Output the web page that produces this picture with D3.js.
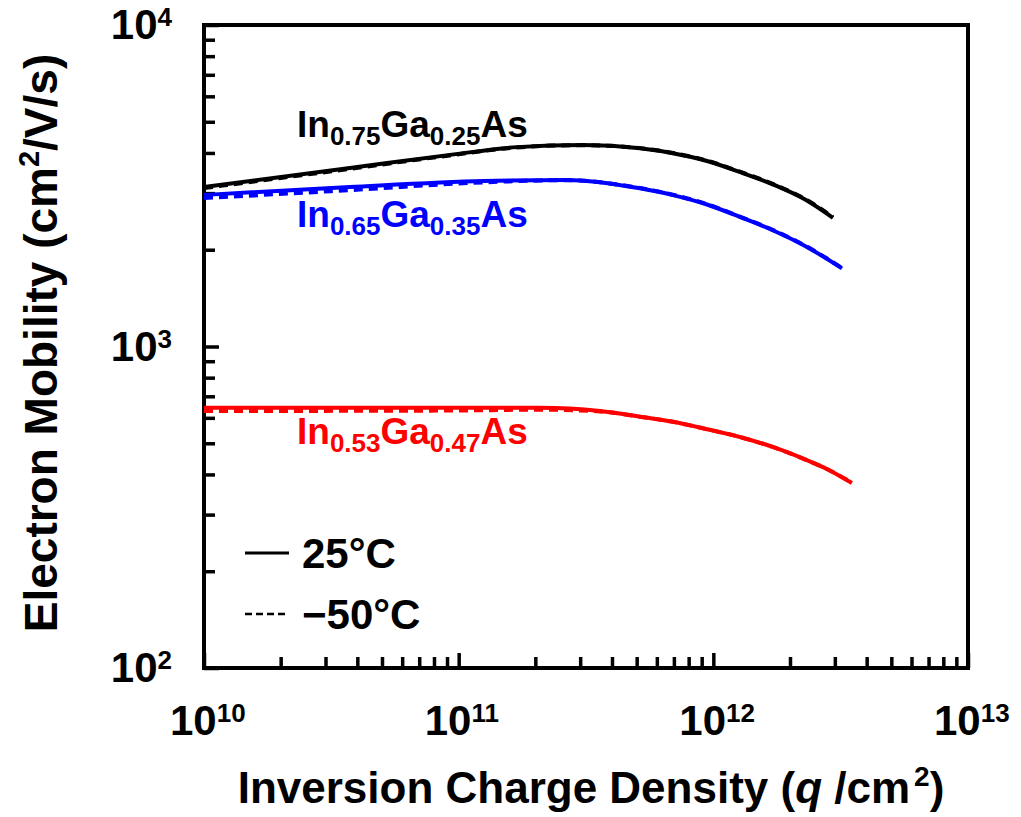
<!DOCTYPE html>
<html>
<head>
<meta charset="utf-8">
<script src="https://cdn.jsdelivr.net/npm/d3@7"></script>
<style>
  html, body { margin: 0; padding: 0; background: #fff; }
  svg { display: block; font-family: "Liberation Sans", Arial, sans-serif; font-weight: bold; }
</style>
</head>
<body>
<svg id="chart" width="1021" height="817"></svg>
<script>
// Inversion charge density (q/cm^2) and electron mobility (cm^2/V/s)
const nIn75 = [1e10, 3.74e10, 9.25e10, 1.69e11, 3.08e11, 5.15e11, 6.94e11, 9.44e11, 1.27e12, 1.71e12, 2.33e12, 2.95e12];
const muIn75_25C = [3135, 3590, 3945, 4170, 4235, 4135, 3990, 3775, 3490, 3195, 2845, 2513];
const muIn75_m50C = [3110, 3570, 3930, 4160, 4230, 4140, 4000, 3785, 3500, 3205, 2855, 2525];

const nIn65 = [1e10, 3.74e10, 1.25e11, 2.66e11, 5.15e11, 6.94e11, 9.44e11, 1.27e12, 1.71e12, 2.33e12, 3.2e12];
const muIn65_25C = [2960, 3135, 3272, 3297, 3105, 2958, 2765, 2530, 2300, 2040, 1750];
const muIn65_m50C = [2895, 3065, 3240, 3290, 3110, 2965, 2772, 2536, 2305, 2044, 1755];

const nIn53 = [1e10, 9.25e10, 2.08e11, 3.59e11, 5.15e11, 6.94e11, 9.44e11, 1.27e12, 1.71e12, 2.33e12, 2.79e12, 3.5e12];
const muIn53_25C = [645, 645, 645, 630, 605, 583, 553, 523, 487, 443, 416, 376];
const muIn53_m50C = [630, 632, 636, 628, 605, 583, 553, 523, 487, 443, 416, 377];

const xDecades = [10, 11, 12, 13];
const yDecades = [2, 3, 4];

const seriesColors = ["#000000", "#0000ff", "#ff0000"];
const seriesNames = [
  ["In", "0.75", "Ga", "0.25", "As"],
  ["In", "0.65", "Ga", "0.35", "As"],
  ["In", "0.53", "Ga", "0.47", "As"]
];
const legendLabels = ["25°C", "\u221250°C"];

const svg = d3.select("#chart");
const mLeft = 204, mRight = 968, mTop = 25, mBottom = 668;

const x = d3.scaleLog().domain([1e10, 1e13]).range([mLeft, mRight]);
const y = d3.scaleLog().domain([1e2, 1e4]).range([mBottom, mTop]);

// minor tick values (2..9 per decade)
const minorX = [], minorY = [];
for (let e = 10; e < 13; e++) for (let k = 2; k <= 9; k++) minorX.push(k * Math.pow(10, e));
for (let e = 2; e < 4; e++) for (let k = 2; k <= 9; k++) minorY.push(k * Math.pow(10, e));
const majorX = xDecades.map(e => Math.pow(10, e));
const majorY = yDecades.map(e => Math.pow(10, e));

function tickAxis(axis, vals, size, transform) {
  const g = svg.append("g").attr("transform", transform)
    .call(axis.tickValues(vals).tickSizeInner(-size).tickSizeOuter(0).tickFormat(""));
  g.select(".domain").remove();
  g.selectAll(".tick line").attr("stroke", "#000").attr("stroke-width", 3.5);
  return g;
}
tickAxis(d3.axisBottom(x), minorX, 11, `translate(0,${mBottom})`);
tickAxis(d3.axisBottom(x), majorX, 15, `translate(0,${mBottom})`);
tickAxis(d3.axisLeft(y), minorY, 11, `translate(${mLeft},0)`);
tickAxis(d3.axisLeft(y), majorY, 15, `translate(${mLeft},0)`);

// frame
svg.append("rect")
  .attr("x", mLeft).attr("y", mTop)
  .attr("width", mRight - mLeft).attr("height", mBottom - mTop)
  .attr("fill", "none").attr("stroke", "#000").attr("stroke-width", 4);

// tick labels
xDecades.forEach(e => {
  const t = svg.append("text")
    .attr("x", x(Math.pow(10, e)) - 34).attr("y", 735)
    .attr("font-size", 42).attr("fill", "#000");
  t.append("tspan").text("10");
  t.append("tspan").attr("font-size", 26).attr("dy", -13).text(e);
});
yDecades.forEach(e => {
  const t = svg.append("text")
    .attr("x", 172).attr("y", y(Math.pow(10, e)) + 14)
    .attr("text-anchor", "end")
    .attr("font-size", 42).attr("fill", "#000");
  t.append("tspan").text("10");
  t.append("tspan").attr("font-size", 26).attr("dy", -13).text(e);
});

// axis titles
const xt = svg.append("text")
  .attr("x", 591).attr("y", 803).attr("text-anchor", "middle")
  .attr("font-size", 44).attr("fill", "#000");
xt.append("tspan").text("Inversion Charge Density (");
xt.append("tspan").attr("font-style", "italic").text("q");
xt.append("tspan").text(" /cm");
xt.append("tspan").attr("font-size", 28).attr("dy", -17).attr("dx", 4).text("2");
xt.append("tspan").attr("dy", 17).text(")");

const yt = svg.append("text")
  .attr("transform", "translate(57,343) rotate(-90)")
  .attr("text-anchor", "middle")
  .attr("font-size", 46).attr("fill", "#000");
yt.append("tspan").text("Electron Mobility (cm");
yt.append("tspan").attr("font-size", 29).attr("dy", -18).text("2");
yt.append("tspan").attr("dy", 18).text("/V/s)");

// curves
const line = d3.line()
  .x(d => x(d[0])).y(d => y(d[1]))
  .curve(d3.curveMonotoneX);

const series = [
  [nIn75, muIn75_25C, muIn75_m50C],
  [nIn65, muIn65_25C, muIn65_m50C],
  [nIn53, muIn53_25C, muIn53_m50C]
];
const plot = svg.append("g");
series.forEach((s, i) => {
  const [n, mu25, mu50] = s;
  plot.append("path")
    .datum(d3.zip(n, mu50))
    .attr("d", line)
    .attr("fill", "none").attr("stroke", seriesColors[i])
    .attr("stroke-width", 4).attr("stroke-dasharray", "9,6");
  plot.append("path")
    .datum(d3.zip(n, mu25))
    .attr("d", line)
    .attr("fill", "none").attr("stroke", seriesColors[i])
    .attr("stroke-width", 4);
});

// series labels
const labelPos = [[297, 137], [297, 227], [297, 444]];
seriesNames.forEach((parts, i) => {
  const t = svg.append("text")
    .attr("x", labelPos[i][0]).attr("y", labelPos[i][1])
    .attr("font-size", 37).attr("fill", seriesColors[i]);
  parts.forEach((p, j) => {
    const sub = j % 2 === 1;
    t.append("tspan")
      .attr("font-size", sub ? 26 : 37)
      .attr("dy", j === 0 ? 0 : (sub ? 8 : -8))
      .text(p);
  });
});

// legend
const legendY = [553, 614];
legendLabels.forEach((lbl, i) => {
  svg.append("line")
    .attr("x1", 245).attr("x2", 289)
    .attr("y1", legendY[i]).attr("y2", legendY[i])
    .attr("stroke", "#000")
    .attr("stroke-width", i === 0 ? 3 : 2.5)
    .attr("stroke-dasharray", i === 0 ? null : "7,4");
  svg.append("text")
    .attr("x", 302).attr("y", legendY[i] + 15)
    .attr("font-size", 42).attr("fill", "#000")
    .text(lbl);
});
</script>
</body>
</html>
